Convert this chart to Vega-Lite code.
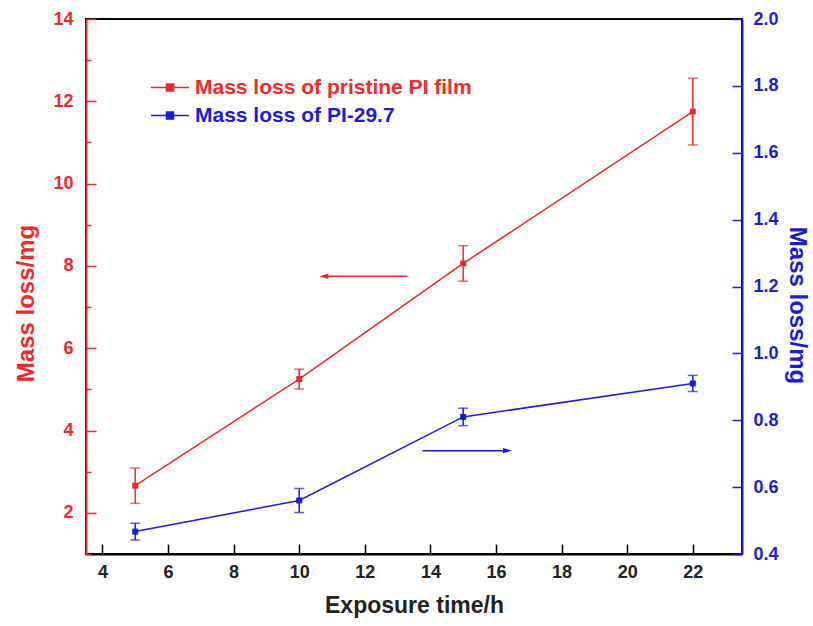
{
  "$schema": "https://vega.github.io/schema/vega-lite/v6.json",
  "width": 656,
  "height": 535,
  "autosize": {"type": "none"},
  "padding": {"left": 86, "top": 19, "right": 71, "bottom": 72},
  "background": "white",
  "config": {
    "view": {"stroke": "black", "strokeWidth": 2},
    "font": "Liberation Sans",
    "axis": {
      "labelFont": "Liberation Sans",
      "labelFontWeight": "bold",
      "labelFontSize": 18,
      "titleFont": "Liberation Sans",
      "titleFontWeight": "bold",
      "grid": false,
      "domainWidth": 2,
      "tickWidth": 1.5
    }
  },
  "datasets": {
    "obs": [
      {"t": 5, "series": "Mass loss of pristine PI film", "mean": 2.66, "err": 0.43},
      {"t": 10, "series": "Mass loss of pristine PI film", "mean": 5.25, "err": 0.24},
      {"t": 15, "series": "Mass loss of pristine PI film", "mean": 8.06, "err": 0.43},
      {"t": 22, "series": "Mass loss of pristine PI film", "mean": 11.75, "err": 0.81},
      {"t": 5, "series": "Mass loss of PI-29.7", "mean": 0.467, "err": 0.025},
      {"t": 10, "series": "Mass loss of PI-29.7", "mean": 0.56, "err": 0.036},
      {"t": 15, "series": "Mass loss of PI-29.7", "mean": 0.81, "err": 0.026},
      {"t": 22, "series": "Mass loss of PI-29.7", "mean": 0.91, "err": 0.024}
    ],
    "arrows": [
      {"series": "Mass loss of pristine PI film", "t": 13.3, "t2": 10.75, "mean": 7.75, "dir": "left"},
      {"series": "Mass loss of PI-29.7", "t": 13.76, "t2": 16.35, "mean": 0.709, "dir": "right"}
    ]
  },
  "layer": [
    {
      "layer": [
        {
          "data": {"name": "obs"},
          "transform": [{"filter": "datum.series === 'Mass loss of pristine PI film'"}],
          "mark": {"type": "line", "strokeWidth": 1.5},
          "encoding": {
            "x": {
              "field": "t", "type": "quantitative",
              "scale": {"domain": [3.5, 23.5], "nice": false, "zero": false},
              "axis": {
                "orient": "bottom",
                "values": [4, 5, 6, 7, 8, 9, 10, 11, 12, 13, 14, 15, 16, 17, 18, 19, 20, 21, 22, 23],
                "labelExpr": "datum.value % 2 === 0 ? datum.label : ''",
                "tickSize": {"condition": {"test": "datum.value % 2 === 0", "value": -10}, "value": -5},
                "domainColor": "black",
                "tickColor": "black",
                "labelColor": "#222222",
                "labelFontSize": 18,
                "labelPadding": 19,
                "title": "Exposure time/h",
                "titleFontSize": 23,
                "titleColor": "#222222",
                "titlePadding": 13,
                "encode": {"labels": {"update": {"fontWeight": {"value": "bold"}}}}
              }
            },
            "y": {
              "field": "mean", "type": "quantitative",
              "scale": {"domain": [1, 14], "nice": false, "zero": false},
              "axis": {
                "orient": "left",
                "values": [1, 2, 3, 4, 5, 6, 7, 8, 9, 10, 11, 12, 13, 14],
                "labelExpr": "datum.value % 2 === 0 ? datum.label : ''",
                "tickSize": {"condition": {"test": "datum.value % 2 === 0", "value": -10}, "value": -5},
                "domainColor": "#ee2a2a",
                "tickColor": "#ee2a2a",
                "labelColor": "#ee2a2a",
                "labelFontSize": 18,
                "labelPadding": 23,
                "title": "Mass loss/mg",
                "titleFontSize": 24,
                "titleColor": "#ee2a2a",
                "titlePadding": 14,
                "titleY": 284,
                "encode": {"labels": {"update": {"fontWeight": {"value": "bold"}}}}
              }
            },
            "color": {
              "field": "series", "type": "nominal",
              "scale": {"domain": ["Mass loss of pristine PI film", "Mass loss of PI-29.7"], "range": ["#ee2a2a", "#1c1cd2"]},
              "legend": {
                "orient": "none",
                "legendX": 73.5,
                "legendY": 58,
                "title": null,
                "padding": 0,
                "symbolType": "M-2,0H-0.4M0.4,0H2M-0.37,-0.37H0.37V0.37H-0.37Z",
                "symbolSize": 361,
                "symbolStrokeWidth": 1.5,
                "labelFont": "Liberation Sans",
                "labelFontWeight": "bold",
                "labelFontSize": 21,
                "labelOffset": 14.5,
                "rowPadding": 6,
                "labelLimit": 400,
                "encode": {
                  "symbols": {"update": {"fill": {"scale": "color", "field": "value"}, "stroke": {"scale": "color", "field": "value"}}},
                  "labels": {"update": {"fill": {"scale": "color", "field": "value"}}}
                }
              }
            }
          }
        },
        {
          "data": {"name": "obs"},
          "transform": [{"filter": "datum.series === 'Mass loss of pristine PI film'"}],
          "mark": {"type": "point", "shape": "square", "filled": true, "size": 36, "opacity": 1},
          "encoding": {
            "x": {"field": "t", "type": "quantitative"},
            "y": {"field": "mean", "type": "quantitative", "title": "Mass loss/mg"},
            "color": {"field": "series", "type": "nominal"}
          }
        },
        {
          "data": {"name": "obs"},
          "transform": [{"filter": "datum.series === 'Mass loss of pristine PI film'"}],
          "mark": {"type": "errorbar", "ticks": {"size": 10, "thickness": 1.5}, "thickness": 1.5},
          "encoding": {
            "x": {"field": "t", "type": "quantitative"},
            "y": {"field": "mean", "type": "quantitative", "title": "Mass loss/mg"},
            "yError": {"field": "err"},
            "color": {"field": "series", "type": "nominal"}
          }
        },
        {
          "data": {"name": "arrows"},
          "transform": [{"filter": "datum.dir === 'left'"}],
          "mark": {"type": "rule", "strokeWidth": 1.5},
          "encoding": {
            "x": {"field": "t", "type": "quantitative"},
            "x2": {"field": "t2"},
            "y": {"field": "mean", "type": "quantitative", "title": "Mass loss/mg"},
            "color": {"field": "series", "type": "nominal"}
          }
        },
        {
          "data": {"name": "arrows"},
          "transform": [{"filter": "datum.dir === 'left'"}],
          "mark": {"type": "point", "shape": "M-1,0L1,-0.6L1,0.6Z", "filled": true, "size": 80, "opacity": 1},
          "encoding": {
            "x": {"field": "t2", "type": "quantitative"},
            "y": {"field": "mean", "type": "quantitative", "title": "Mass loss/mg"},
            "color": {"field": "series", "type": "nominal"}
          }
        }
      ]
    },
    {
      "layer": [
        {
          "data": {"name": "obs"},
          "transform": [{"filter": "datum.series === 'Mass loss of PI-29.7'"}],
          "mark": {"type": "line", "strokeWidth": 1.5},
          "encoding": {
            "x": {"field": "t", "type": "quantitative"},
            "y": {
              "field": "mean", "type": "quantitative",
              "scale": {"domain": [0.4, 2.0], "nice": false, "zero": false},
              "axis": {
                "orient": "right",
                "values": [0.4, 0.5, 0.6, 0.7, 0.8, 0.9, 1.0, 1.1, 1.2, 1.3, 1.4, 1.5, 1.6, 1.7, 1.8, 1.9, 2.0],
                "format": ".1f",
                "labelExpr": "round(datum.value * 10) % 2 === 0 ? datum.label : ''",
                "tickSize": {"condition": {"test": "round(datum.value * 10) % 2 === 0", "value": -10}, "value": -5},
                "domainColor": "#1c1cd2",
                "tickColor": "#1c1cd2",
                "labelColor": "#1c1cd2",
                "labelFontSize": 18,
                "labelPadding": 21,
                "title": "Mass loss/mg",
                "titleFontSize": 24,
                "titleColor": "#1c1cd2",
                "titlePadding": 6,
                "titleY": 286,
                "encode": {"labels": {"update": {"fontWeight": {"value": "bold"}}}}
              }
            },
            "color": {"field": "series", "type": "nominal"}
          }
        },
        {
          "data": {"name": "obs"},
          "transform": [{"filter": "datum.series === 'Mass loss of PI-29.7'"}],
          "mark": {"type": "point", "shape": "square", "filled": true, "size": 36, "opacity": 1},
          "encoding": {
            "x": {"field": "t", "type": "quantitative"},
            "y": {"field": "mean", "type": "quantitative", "title": "Mass loss/mg"},
            "color": {"field": "series", "type": "nominal"}
          }
        },
        {
          "data": {"name": "obs"},
          "transform": [{"filter": "datum.series === 'Mass loss of PI-29.7'"}],
          "mark": {"type": "errorbar", "ticks": {"size": 10, "thickness": 1.5}, "thickness": 1.5},
          "encoding": {
            "x": {"field": "t", "type": "quantitative"},
            "y": {"field": "mean", "type": "quantitative", "title": "Mass loss/mg"},
            "yError": {"field": "err"},
            "color": {"field": "series", "type": "nominal"}
          }
        },
        {
          "data": {"name": "arrows"},
          "transform": [{"filter": "datum.dir === 'right'"}],
          "mark": {"type": "rule", "strokeWidth": 1.5},
          "encoding": {
            "x": {"field": "t", "type": "quantitative"},
            "x2": {"field": "t2"},
            "y": {"field": "mean", "type": "quantitative", "title": "Mass loss/mg"},
            "color": {"field": "series", "type": "nominal"}
          }
        },
        {
          "data": {"name": "arrows"},
          "transform": [{"filter": "datum.dir === 'right'"}],
          "mark": {"type": "point", "shape": "M1,0L-1,-0.6L-1,0.6Z", "filled": true, "size": 80, "opacity": 1},
          "encoding": {
            "x": {"field": "t2", "type": "quantitative"},
            "y": {"field": "mean", "type": "quantitative", "title": "Mass loss/mg"},
            "color": {"field": "series", "type": "nominal"}
          }
        }
      ]
    }
  ],
  "resolve": {"scale": {"y": "independent"}, "axis": {"y": "independent"}}
}
